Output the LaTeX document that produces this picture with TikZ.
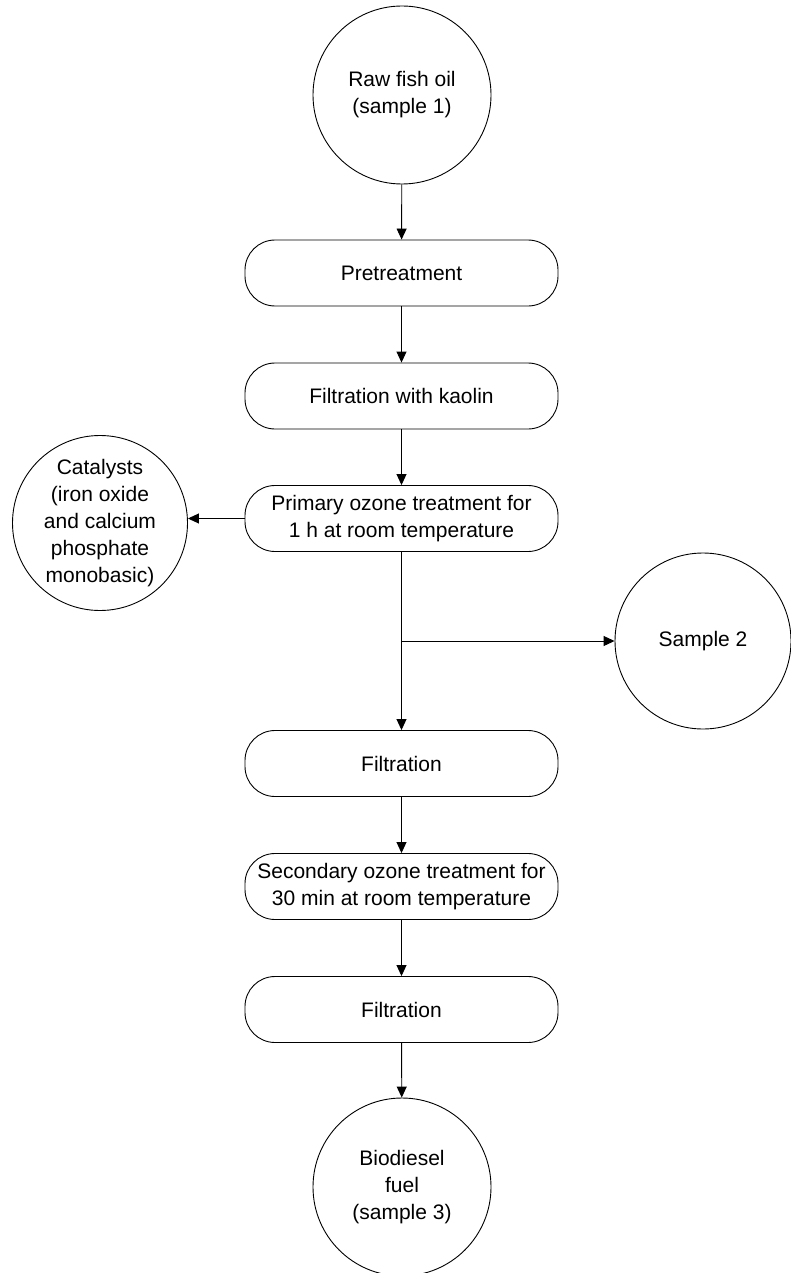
\documentclass[tikz,border=0pt]{standalone}
\usepackage{fontspec}
\setmainfont{Liberation Sans}
\usetikzlibrary{arrows.meta}
\begin{document}
\begin{tikzpicture}[x=1pt,y=-1pt,
  every node/.style={font=\fontsize{21}{27}\selectfont, text=black, align=center},
  circ/.style={draw, line width=0.9pt, circle, minimum size=178pt, inner sep=0pt},
  proc/.style={draw, line width=0.9pt, rectangle, rounded corners=30pt, minimum width=313pt, minimum height=66pt, inner sep=0pt},
  conn/.style={line width=0.9pt, -{Triangle[length=11pt,width=10pt]}}]
\useasboundingbox (0,0) rectangle (791,1273);
\node[circ] (raw) at (402,95) {Raw fish oil\\(sample 1)};
\node[proc] (pre) at (401.5,273) {Pretreatment};
\node[proc] (kao) at (401.5,396) {Filtration with kaolin};
\node[proc] (prim) at (401.5,518.5) {Primary ozone treatment for\\1 h at room temperature};
\node[circ, minimum size=175pt] (cat) at (100,523) {Catalysts\\(iron oxide\\and calcium\\phosphate\\monobasic)};
\node[circ, minimum size=176pt] (s2) at (703,641) {Sample 2};
\node[proc] (f1) at (401.5,763.5) {Filtration};
\node[proc] (sec) at (401.5,886.5) {Secondary ozone treatment for\\30 min at room temperature};
\node[proc] (f2) at (401.5,1009.5) {Filtration};
\node[circ] (bio) at (402,1187) {Biodiesel\\fuel\\(sample 3)};
\coordinate (j) at (401.5,641);
\draw[conn] (raw) -- (pre);
\draw[conn] (pre) -- (kao);
\draw[conn] (kao) -- (prim);
\draw[conn] (prim.west) -- (cat.east |- prim.west);
\draw[conn] (prim) -- (f1);
\draw[conn] (j) -- (s2.west);
\draw[conn] (f1) -- (sec);
\draw[conn] (sec) -- (f2);
\draw[conn] (f2) -- (bio);
\end{tikzpicture}
\end{document}
